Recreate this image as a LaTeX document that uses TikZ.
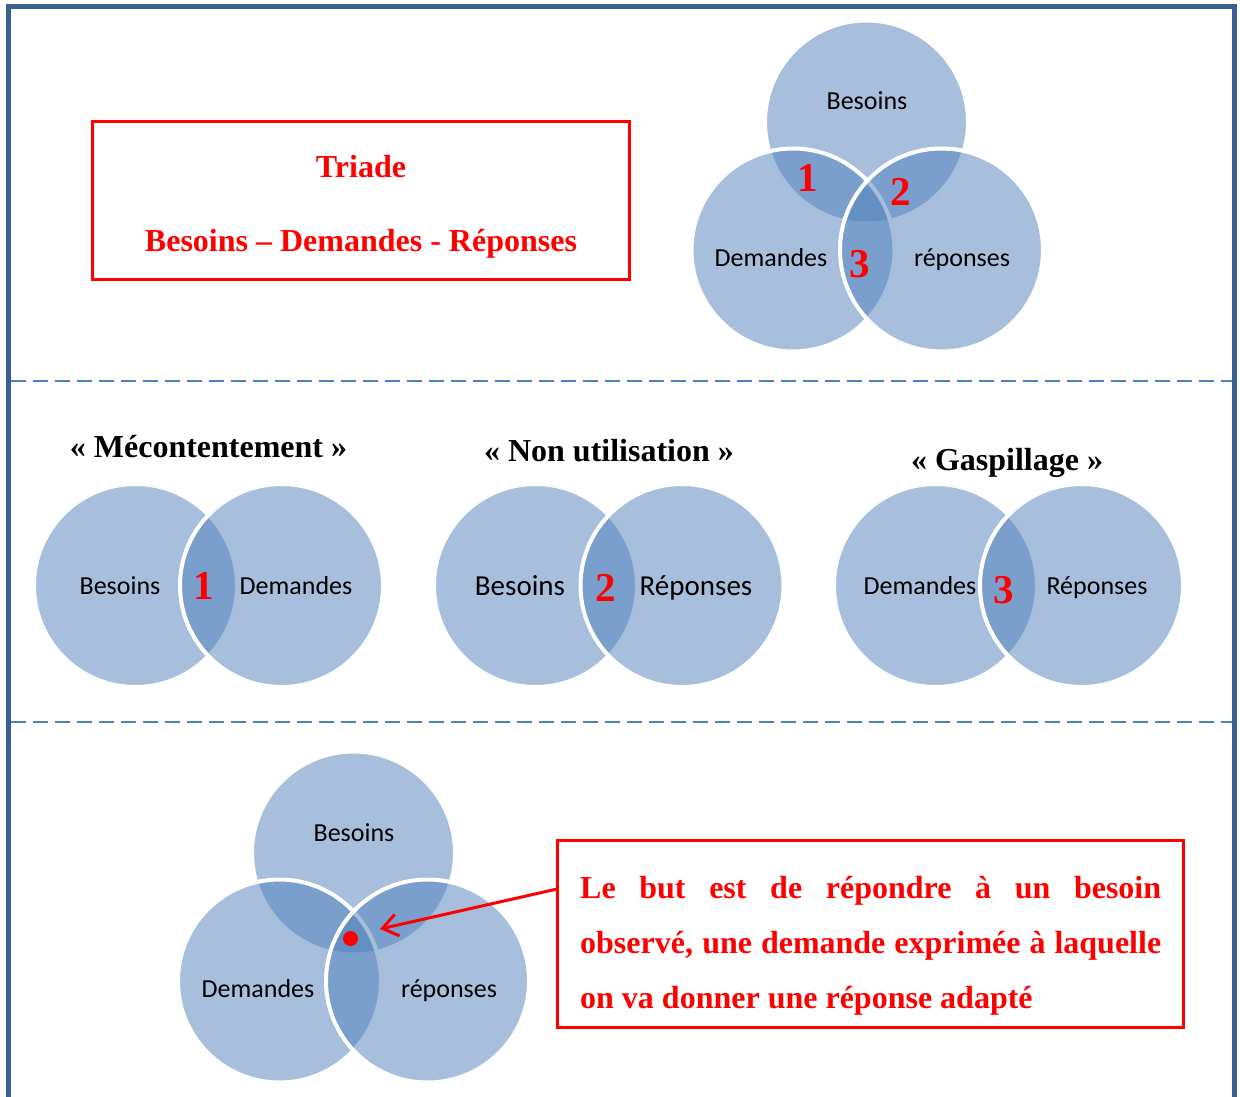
\documentclass[tikz,border=0pt]{standalone}
\usepackage{fontspec}
\setmainfont{Liberation Serif}
\newfontfamily\calfont{Carlito}
\usetikzlibrary{arrows.meta}
\definecolor{acc}{RGB}{79,127,187}
\definecolor{frame}{RGB}{59,95,145}
\definecolor{dashc}{RGB}{79,129,189}
\definecolor{rouge}{RGB}{255,0,0}
\begin{document}
\begin{tikzpicture}[x=1pt,y=-1pt,
  venn/.style={fill=acc, fill opacity=0.5, draw=white, line width=4},
  lab/.style={font=\calfont\fontsize{26}{30}\selectfont, text=black, inner sep=0, anchor=base},
  labb/.style={font=\calfont\fontsize{29}{33}\selectfont, text=black, inner sep=0, anchor=base},
  num/.style={font=\bfseries\fontsize{41}{44}\selectfont, text=rouge, inner sep=0, anchor=base},
  ttl/.style={font=\bfseries\fontsize{32}{36}\selectfont, text=black, inner sep=0, anchor=base},
  rtxt/.style={font=\bfseries\fontsize{32}{36}\selectfont, text=rouge, inner sep=0, anchor=base},
  redbox/.style={draw=rouge, line width=3, inner sep=0}]
\useasboundingbox (0,0) rectangle (1240,1097);
% outer frame
\draw[frame, line width=5] (8.5,1097) -- (8.5,6.5) -- (1234.5,6.5) -- (1234.5,1097);
% separators
\draw[dashc, line width=2.5, dash pattern=on 15 off 7] (11,381) -- (1232,381);
\draw[dashc, line width=2.5, dash pattern=on 15 off 7] (11,722) -- (1232,722);

% ---------- top left box
\node[redbox, minimum width=537, minimum height=157] (triade) at (360.5,200.5) {};
\node[rtxt] (t1) at (361,178) {Triade};
\node[rtxt] (t2) at (361,251) {Besoins – Demandes - Réponses};

% ---------- top triad
\path[venn] (866.5,122) circle[radius=101.5];
\path[venn] (793,250) circle[radius=101.5];
\path[venn] (941.5,250) circle[radius=101.5];
\node[lab] (a1) at (867,110) {Besoins};
\node[lab] (a2) at (771,266) {Demandes};
\node[lab] (a3) at (962,266) {réponses};
\node[num] (n1) at (808,192) {1};
\node[num] (n2) at (901,205) {2};
\node[num] (n3) at (860,277) {3};

% ---------- middle row
\node[ttl] (m1) at (208.5,457) {« Mécontentement »};
\node[ttl] (m2) at (609,461) {« Non utilisation »};
\node[ttl] (m3) at (1007,470) {« Gaspillage »};

\path[venn] (135.5,585.5) circle[radius=101.5];
\path[venn] (281.5,585.5) circle[radius=101.5];
\node[lab] (b1) at (120,594) {Besoins};
\node[lab] (b2) at (296,594) {Demandes};
\node[num] (bn) at (204,599) {1};

\path[venn] (535.5,585.5) circle[radius=101.5];
\path[venn] (682,585.5) circle[radius=101.5];
\node[labb] (c1) at (520,595) {Besoins};
\node[labb] (c2) at (696,595) {Réponses};
\node[num] (cn) at (606,601) {2};

\path[venn] (935.5,585.5) circle[radius=101.5];
\path[venn] (1081.5,585.5) circle[radius=101.5];
\node[lab] (d1) at (920,594) {Demandes};
\node[lab] (d2) at (1097,594) {Réponses};
\node[num] (dn) at (1004,603) {3};

% ---------- bottom triad
\path[venn] (353.5,853) circle[radius=101.5];
\path[venn] (279.5,981) circle[radius=101.5];
\path[venn] (427.5,981) circle[radius=101.5];
\node[lab] (e1) at (354,841) {Besoins};
\node[lab] (e2) at (258,997) {Demandes};
\node[lab] (e3) at (449,997) {réponses};
\node[circle, fill=rouge, inner sep=0, minimum size=15] (dot) at (350.5,938.5) {};

% ---------- bottom right box
\node[redbox, minimum width=626, minimum height=187] (goal) at (870,933.5) {};
\node[rtxt, anchor=base west] (g1) at (580,898) {\makebox[581pt][s]{Le but est de répondre à un besoin}};
\node[rtxt, anchor=base west] (g2) at (580,953) {\makebox[581pt][s]{observé, une demande exprimée à laquelle}};
\node[rtxt, anchor=base west] (g3) at (580,1008) {on va donner une réponse adapté};

\coordinate (astart) at (557,889);
\coordinate (atip) at (380,929);
\draw[rouge, line width=3, -{Straight Barb[length=15, width=22]}] (astart) -- (atip);
\end{tikzpicture}
\end{document}
